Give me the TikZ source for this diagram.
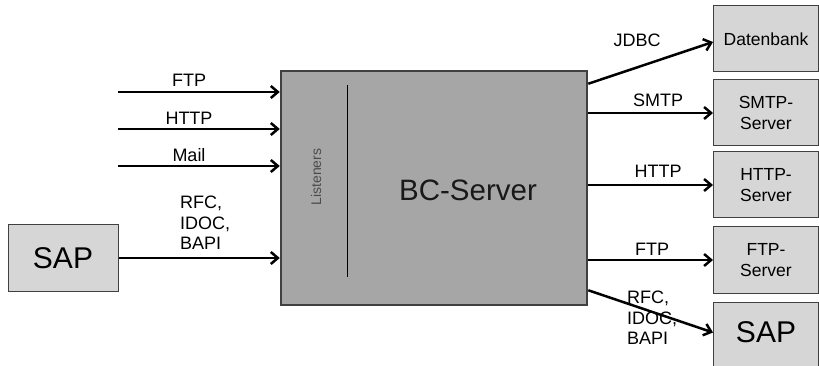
\documentclass[tikz,border=0pt]{standalone}
\usepackage{fontspec}
\setmainfont{Liberation Sans}
\usetikzlibrary{arrows.meta}
\begin{document}
\begin{tikzpicture}[x=1pt, y=-1pt, >={Straight Barb[length=7pt,width=12pt]},
    box/.style={draw=black!75, fill=black!16, line width=1pt, minimum width=105pt,
      minimum height=66pt, inner sep=0pt, align=center, font=\fontsize{17.5}{21}\selectfont},
    lbl/.style={inner sep=0pt, align=left, font=\fontsize{18}{20.5}\selectfont},
    link/.style={line width=2.5pt, ->}]
    \useasboundingbox (0,0) rectangle (819,366);

    % server
    \node [draw=black!75, fill=black!35, line width=2.5pt, minimum width=306pt,
      minimum height=234pt] (bc) at (434,188) {};
    \node [font=\fontsize{29.5}{32}\selectfont, text=black!90] (bcname) at (468,190) {BC-Server};
    \node [rotate=90, text=black!70, font=\fontsize{14}{16}\selectfont] (lis) at (316,177) {Listeners};
    \coordinate (lt) at (347,85);
    \coordinate (lb) at (347,277);
    \draw [line width=0.9pt] (lt) -- (lb);

    % left side
    \node [box, minimum width=110pt, font=\fontsize{30}{32}\selectfont] (sapl) at (63,258) {SAP};
    \coordinate (ftpin)  at (118,92);
    \coordinate (httpin) at (118,129);
    \coordinate (mailin) at (118,166);
    \draw [link] (ftpin)  -- (ftpin -| bc.west);
    \draw [link] (httpin) -- (httpin -| bc.west);
    \draw [link] (mailin) -- (mailin -| bc.west);
    \draw [link] (sapl.east) -- (sapl.east -| bc.west);
    \node [lbl, anchor=base] (lftp)  at (189,87)  {FTP};
    \node [lbl, anchor=base] (lhttp) at (189,125) {HTTP};
    \node [lbl, anchor=base] (lmail) at (189,162) {Mail};
    \node [lbl, anchor=west] (lrfc)  at (180,223) {RFC,\\IDOC,\\BAPI};

    % right side
    \node [box] (db)   at (766,39)  {Datenbank};
    \node [box] (smtp) at (766,113) {SMTP-\\Server};
    \node [box] (http) at (766,185) {HTTP-\\Server};
    \node [box] (ftp)  at (766,260) {FTP-\\Server};
    \node [box, anchor=north, text height=40pt, text depth=34pt,
      font=\fontsize{30}{32}\selectfont] (sapr) at (766,302) {SAP};
    \draw [link] ([yshift=-14pt]bc.north east) -- ([yshift=-3pt]db.west);
    \draw [link] (smtp.west -| bc.east) -- (smtp.west);
    \draw [link] (http.west -| bc.east) -- (http.west);
    \draw [link] (ftp.west -| bc.east) -- (ftp.west);
    \draw [link] ([yshift=16pt]bc.south east) -- ([yshift=7pt]sapr.west);
    \node [lbl, anchor=base] (rjdbc) at (637,47)  {JDBC};
    \node [lbl, anchor=base] (rsmtp) at (658,107) {SMTP};
    \node [lbl, anchor=base] (rhttp) at (658,178) {HTTP};
    \node [lbl, anchor=base] (rftp)  at (652,255) {FTP};
    \node [lbl, anchor=west] (rrfc)  at (627,318) {RFC,\\IDOC,\\BAPI};
\end{tikzpicture}
\end{document}
